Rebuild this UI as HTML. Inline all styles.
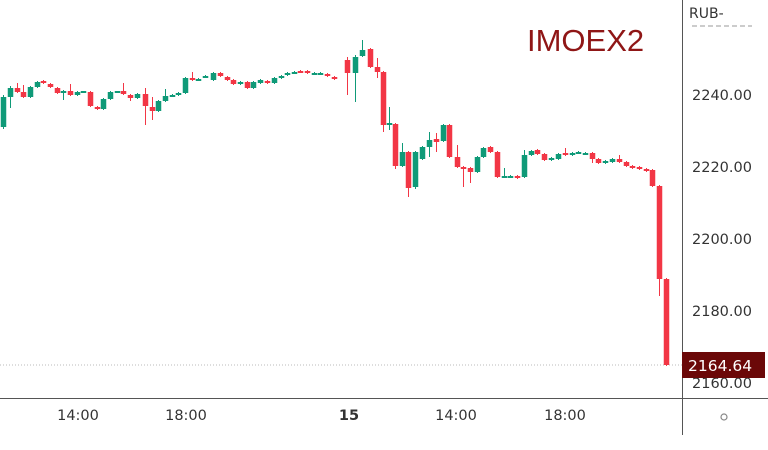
<!DOCTYPE html>
<html><head><meta charset="utf-8"><style>
html,body{margin:0;padding:0;background:#fff;}
svg{display:block;font-family:"DejaVu Sans","Liberation Sans",sans-serif;}
</style></head><body>
<svg id="s" width="768" height="450" viewBox="0 0 768 450" xmlns="http://www.w3.org/2000/svg">
<rect width="768" height="450" fill="#fff"/>
<line x1="0" y1="365" x2="682" y2="365" stroke="#bbb" stroke-width="1" stroke-dasharray="1,2"/>
<line x1="0" y1="398.5" x2="768" y2="398.5" stroke="#555" stroke-width="1"/>
<line x1="682.5" y1="0" x2="682.5" y2="435" stroke="#555" stroke-width="1"/>
<g id="c"></g>
<text x="527" y="51" font-size="31" fill="#8f1616" font-family="Liberation Sans, sans-serif">IMOEX2</text>
<text x="689" y="18" font-size="14" fill="#333">RUB-</text>
<line x1="692" y1="26" x2="752" y2="26" stroke="#bbb" stroke-width="1.5" stroke-dasharray="5,3"/>
<g font-size="14.5" fill="#333">
<text x="692" y="100">2240.00</text>
<text x="692" y="172">2220.00</text>
<text x="692" y="244">2200.00</text>
<text x="692" y="316">2180.00</text>
<text x="692" y="388">2160.00</text>
</g>
<rect x="682" y="352" width="83" height="26" fill="#6b0808"/>
<text x="688" y="371" font-size="15.5" fill="#fff">2164.64</text>
<g font-size="14.5" fill="#333" text-anchor="middle">
<text x="78" y="420">14:00</text>
<text x="186" y="420">18:00</text>
<text x="349" y="420" font-weight="bold">15</text>
<text x="456" y="420">14:00</text>
<text x="565" y="420">18:00</text>
</g>
<circle cx="724" cy="417" r="3" fill="none" stroke="#888" stroke-width="1.2"/>
</svg>
<script>
var G="#0f9a78",R="#f23645";
var d=[
[3,97,127,G,95,129],[10,88,97,G,86,108],[17,88,92,R,83,93],[23,92,97,R,85,98],[30,87,97,G,86,98],
[37,82,87,G,81,88],[43,81,83,R,80,84],[50,84,87,R,83,88],[57,88,93,R,87,94],[63,91,93,G,90,100],
[70,91,95,R,84,96],[77,92,95,G,91,96],[83,91,92,G,91,93],[90,92,106,R,91,107],[97,107,109,R,106,110],
[103,99,109,G,98,110],[110,92,99,G,91,100],[117,91,92,G,91,93],[123,91,94,R,83,95],[130,95,98,R,94,101],
[137,94,98,G,93,99],[145,94,106,R,88,125],[152,107,111,R,97,120],[158,101,111,G,100,112],[165,96,101,G,89,102],
[172,95,96,G,94,97],[178,93,95,G,92,96],[185,78,93,G,77,94],[192,78,80,R,72,81],[198,79,80,G,78,81],
[205,76,77,G,75,78],[213,73,80,G,72,81],[220,73,76,R,72,77],[227,77,80,R,76,81],[233,80,84,R,79,85],
[240,82,84,G,81,85],[247,82,88,R,81,89],[253,82,88,G,81,89],[260,80,83,G,79,84],[267,81,83,R,80,84],
[274,78,83,G,77,84],[281,76,78,G,75,79],[287,73,75,G,72,76],[294,72,73,G,71,74],[300,71,72,R,70,73],
[307,71,73,R,70,74],[314,73,74,G,72,75],[320,73,74,G,72,75],[327,74,76,R,73,77],[334,77,79,R,76,80],
[347,60,73,R,57,95],[355,57,73,G,55,102],[362,50,56,G,40,57],[370,49,67,R,48,68],[377,67,72,R,58,78],
[383,72,125,R,71,132],[389,123,125,G,107,130],[395,124,166,R,123,169],[402,152,166,G,143,167],
[408,152,188,R,151,197],[415,152,187,G,151,189],[422,147,159,G,146,160],[429,140,147,G,132,157],
[436,139,142,R,133,152],[443,125,141,G,124,142],[449,125,157,R,124,158],[457,157,167,R,145,168],
[463,167,169,R,166,187],[470,168,172,R,167,183],[477,157,172,G,156,173],[483,148,157,G,147,158],
[490,147,152,R,146,153],[497,152,177,R,151,178],[504,176,177,G,168,178],[510,176,177,G,175,178],
[517,176,178,R,175,179],[524,155,177,G,150,178],[531,151,155,G,150,156],[537,150,154,R,149,155],
[544,154,160,R,153,161],[551,158,160,G,157,161],[558,154,159,G,153,160],[565,153,155,R,148,156],
[572,153,155,G,152,156],[578,152,153,G,151,154],[585,153,154,G,152,155],[592,153,159,R,152,163],
[598,159,163,R,158,164],[605,161,163,G,160,164],[612,159,162,G,158,163],[619,159,162,R,155,163],
[626,162,166,R,161,167],[632,166,168,R,165,169],[639,167,169,R,166,170],[646,169,171,R,168,172],
[652,170,186,R,169,187],[659,186,279,R,185,296],[666,279,365,R,278,366]
];
var g=document.getElementById("c"),h="";
d.forEach(function(c){
h+='<line x1="'+(c[0]+0.5)+'" y1="'+c[4]+'" x2="'+(c[0]+0.5)+'" y2="'+c[5]+'" stroke="'+c[3]+'" stroke-width="1"/>';
h+='<rect x="'+(c[0]-2.25)+'" y="'+c[1]+'" width="5.5" height="'+Math.max(2,c[2]-c[1])+'" fill="'+c[3]+'"/>';
});
g.innerHTML=h;
</script>
</body></html>
